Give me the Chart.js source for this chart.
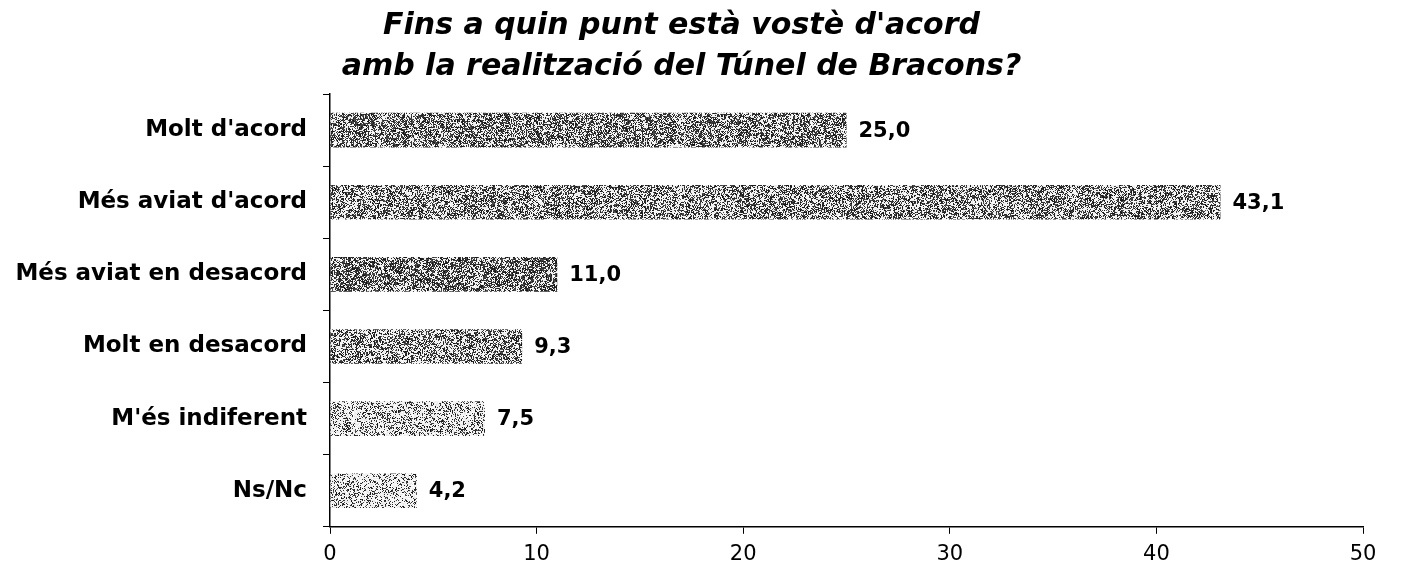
<!DOCTYPE html>
<html>
<head>
<meta charset="utf-8">
<script src="https://cdn.jsdelivr.net/npm/chart.js@4.4.1/dist/chart.umd.min.js"></script>
<style>
  html, body { margin: 0; padding: 0; background: #fff; }
  #wrap { width: 1403px; height: 583px; }
</style>
</head>
<body>
<div id="wrap"><canvas id="chart" width="1403" height="583"></canvas></div>
<script>
const titleLines = ["Fins a quin punt està vostè d'acord", "amb la realització del Túnel de Bracons?"];
const categories = ["Molt d'acord", "Més aviat d'acord", "Més aviat en desacord", "Molt en desacord", "M'és indiferent", "Ns/Nc"];
const values = [25.0, 43.1, 11.0, 9.3, 7.5, 4.2];
const shades = [0.52, 0.48, 0.58, 0.46, 0.3, 0.24]; // dot density of each bar's grain

// grainy, scanned-looking fill (wide enough that it never visibly repeats)
function grain(density, seed) {
  const W = 1100, H = 90, B = 3;
  const c = document.createElement('canvas');
  c.width = W; c.height = H;
  const g = c.getContext('2d');
  const img = g.createImageData(W, H);
  let s = seed;
  const rnd = () => { s = (s * 1103515245 + 12345) % 2147483648; return s / 2147483648; };
  const bw = Math.ceil(W / B), bh = Math.ceil(H / B);
  const blocks = [];
  for (let i = 0; i < bw * bh; i++) blocks.push(0.55 + rnd() * 0.9);
  for (let y = 0; y < H; y++) {
    for (let x = 0; x < W; x++) {
      const d = density * blocks[Math.floor(y / B) * bw + Math.floor(x / B)];
      const v = rnd() < d ? 15 + rnd() * 70 : 230 + rnd() * 25;
      const i = (y * W + x) * 4;
      img.data[i] = img.data[i + 1] = img.data[i + 2] = v;
      img.data[i + 3] = 255;
    }
  }
  g.putImageData(img, 0, 0);
  return g.createPattern(c, 'repeat');
}

const valueLabels = {
  id: 'valueLabels',
  afterDatasetsDraw(chart) {
    const ctx = chart.ctx;
    const meta = chart.getDatasetMeta(0);
    ctx.save();
    ctx.font = 'bold 21px "DejaVu Sans"';
    ctx.fillStyle = '#000';
    ctx.textBaseline = 'middle';
    meta.data.forEach((bar, i) => {
      ctx.fillText(values[i].toFixed(1).replace('.', ','), bar.x + 12, bar.y + 1);
    });
    ctx.restore();
  }
};

new Chart(document.getElementById('chart'), {
  type: 'bar',
  data: {
    labels: categories,
    datasets: [{
      data: values,
      backgroundColor: shades.map((d, i) => grain(d, 7 + i * 131)),
      borderWidth: 0,
      barPercentage: 0.6,
      categoryPercentage: 0.8
    }]
  },
  options: {
    indexAxis: 'y',
    responsive: false,
    animation: false,
    layout: { padding: { right: 40, bottom: 8 } },
    plugins: {
      legend: { display: false },
      tooltip: { enabled: false },
      title: {
        display: true,
        text: titleLines,
        color: '#000',
        font: { family: 'DejaVu Sans', size: 30, weight: 'bold', style: 'italic', lineHeight: 1.35 },
        padding: { top: 6, bottom: 7 }
      }
    },
    scales: {
      x: {
        min: 0, max: 50,
        ticks: { stepSize: 10, color: '#000', padding: 8, font: { family: 'DejaVu Sans', size: 21 } },
        grid: { drawOnChartArea: false, color: '#000', tickLength: 7 },
        border: { color: '#000', width: 1.5 }
      },
      y: {
        afterFit(scale) { scale.width = 330; },
        ticks: { color: '#000', padding: 16, font: { family: 'DejaVu Sans', size: 23, weight: 'bold' } },
        grid: { drawOnChartArea: false, color: '#000', tickLength: 7 },
        border: { color: '#000', width: 1.5 }
      }
    }
  },
  plugins: [valueLabels]
});
</script>
</body>
</html>
